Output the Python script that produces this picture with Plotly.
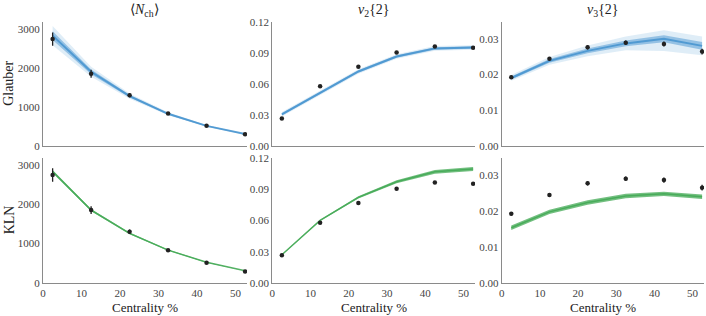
import plotly.graph_objects as go

# ---------------- data ----------------
centrality = [2.5, 12.5, 22.5, 32.5, 42.5, 52.5]

# experimental points
exp_nch = [2740, 1850, 1300, 830, 515, 295]
exp_nch_err = [170, 100, 55, 35, 20, 12]
exp_v2 = [0.0265, 0.0577, 0.0767, 0.0903, 0.0963, 0.0950]
exp_v2_err = [0.0005, 0.0006, 0.0007, 0.0008, 0.0009, 0.0010]
exp_v3 = [0.0192, 0.0244, 0.0276, 0.0289, 0.0285, 0.0264]
exp_v3_err = [0.0005, 0.0005, 0.0006, 0.0006, 0.0007, 0.0008]

# Glauber model bands (outer low, inner low, middle, inner high, outer high)
gl_nch_olo = [2580, 1770, 1205, 780, 485, 282]
gl_nch_ilo = [2720, 1840, 1240, 798, 496, 290]
gl_nch_mid = [2830, 1900, 1275, 820, 510, 300]
gl_nch_ihi = [2940, 1960, 1310, 842, 524, 310]
gl_nch_ohi = [3080, 2030, 1345, 860, 535, 318]

gl_v2_olo = [0.0283, 0.0493, 0.0698, 0.0843, 0.0922, 0.0930]
gl_v2_ilo = [0.0293, 0.0503, 0.0708, 0.0853, 0.0932, 0.0940]
gl_v2_mid = [0.0305, 0.0515, 0.0720, 0.0865, 0.0944, 0.0952]
gl_v2_ihi = [0.0317, 0.0527, 0.0732, 0.0877, 0.0956, 0.0964]
gl_v2_ohi = [0.0327, 0.0537, 0.0742, 0.0887, 0.0966, 0.0974]

gl_v3_olo = [0.0182, 0.0227, 0.0251, 0.0268, 0.0266, 0.0254]
gl_v3_ilo = [0.0186, 0.0233, 0.0259, 0.0279, 0.0290, 0.0269]
gl_v3_mid = [0.0190, 0.0238, 0.0266, 0.0287, 0.0300, 0.0280]
gl_v3_ihi = [0.0194, 0.0243, 0.0273, 0.0295, 0.0310, 0.0291]
gl_v3_ohi = [0.0198, 0.0249, 0.0281, 0.0306, 0.0324, 0.0306]

# KLN model bands (low, middle, high)
kln_nch_lo = [2790, 1820, 1240, 820, 515, 302]
kln_nch_mid = [2830, 1850, 1260, 835, 525, 310]
kln_nch_hi = [2870, 1880, 1280, 850, 535, 318]

kln_v2_lo = [0.0267, 0.0595, 0.0810, 0.0955, 0.1047, 0.1072]
kln_v2_mid = [0.0270, 0.0600, 0.0820, 0.0970, 0.1065, 0.1092]
kln_v2_hi = [0.0273, 0.0605, 0.0830, 0.0985, 0.1083, 0.1112]

kln_v3_lo = [0.0147, 0.0191, 0.0217, 0.0235, 0.0241, 0.0233]
kln_v3_mid = [0.0153, 0.0197, 0.0223, 0.0241, 0.0247, 0.0239]
kln_v3_hi = [0.0159, 0.0203, 0.0229, 0.0247, 0.0253, 0.0245]

titles = ["\u27e8<i>N</i><sub>ch</sub>\u27e9", "<i>v</i><sub>2</sub>{2}", "<i>v</i><sub>3</sub>{2}"]
row_labels = ["Glauber", "KLN"]
x_title = "Centrality %"
x_ticks = [0, 10, 20, 30, 40, 50]
nch_ticks = [0, 1000, 2000, 3000]
v2_ticks = [0, 0.03, 0.06, 0.09, 0.12]
v3_ticks = [0, 0.01, 0.02, 0.03]

BLUE = "58,140,204"
GREEN = "68,170,85"
FONT = "Liberation Serif, Times New Roman, serif"

fig = go.Figure()

def band(xa, ya, lo, hi, rgb, alpha):
    fig.add_trace(go.Scatter(
        x=centrality + centrality[::-1], y=hi + lo[::-1],
        xaxis=xa, yaxis=ya, fill="toself", mode="lines",
        line=dict(width=0), fillcolor=f"rgba({rgb},{alpha})",
        hoverinfo="skip", showlegend=False))

def line(xa, ya, y, rgb, alpha, width):
    fig.add_trace(go.Scatter(
        x=centrality, y=y, xaxis=xa, yaxis=ya, mode="lines",
        line=dict(color=f"rgba({rgb},{alpha})", width=width),
        showlegend=False))

def points(xa, ya, y, err):
    fig.add_trace(go.Scatter(
        x=centrality, y=y, xaxis=xa, yaxis=ya, mode="markers",
        marker=dict(color="#222222", size=4.5),
        error_y=dict(type="data", array=err, color="#222222", thickness=1.3, width=0),
        showlegend=False))

# Glauber row (axes 1..3)
glauber = [
    (gl_nch_olo, gl_nch_ilo, gl_nch_mid, gl_nch_ihi, gl_nch_ohi, exp_nch, exp_nch_err),
    (gl_v2_olo, gl_v2_ilo, gl_v2_mid, gl_v2_ihi, gl_v2_ohi, exp_v2, exp_v2_err),
    (gl_v3_olo, gl_v3_ilo, gl_v3_mid, gl_v3_ihi, gl_v3_ohi, exp_v3, exp_v3_err),
]
for i, (olo, ilo, mid, ihi, ohi, e, ee) in enumerate(glauber):
    xa = "x" if i == 0 else f"x{i+1}"
    ya = "y" if i == 0 else f"y{i+1}"
    band(xa, ya, olo, ohi, BLUE, 0.16)
    band(xa, ya, ilo, ihi, BLUE, 0.45)
    line(xa, ya, mid, BLUE, 0.75, 2)
    points(xa, ya, e, ee)

# KLN row (axes 4..6)
kln = [
    (kln_nch_lo, kln_nch_mid, kln_nch_hi, exp_nch, exp_nch_err),
    (kln_v2_lo, kln_v2_mid, kln_v2_hi, exp_v2, exp_v2_err),
    (kln_v3_lo, kln_v3_mid, kln_v3_hi, exp_v3, exp_v3_err),
]
for i, (lo, mid, hi, e, ee) in enumerate(kln):
    xa = f"x{i+4}"
    ya = f"y{i+4}"
    band(xa, ya, lo, hi, GREEN, 0.75)
    line(xa, ya, mid, GREEN, 0.9, 1.5)
    points(xa, ya, e, ee)

xdom = [[0.0, 0.3086], [0.3469, 0.6536], [0.694, 1.0]]
ydom = [[0.526, 1.0], [0.0, 0.48]]
yranges = [[0, 3180], [0, 0.12], [0, 0.0347]]
yticks = [nch_ticks, v2_ticks, v3_ticks]
yfmt = ["d", ".2f", ".2f"]

axis_common = dict(
    showgrid=False, zeroline=False, showline=True, linecolor="#8a8a8a", linewidth=1,
    ticks="", tickfont=dict(family=FONT, size=11, color="#444444"),
)

layout = dict(
    width=706, height=316,
    margin=dict(l=43, r=2, t=22, b=33),
    plot_bgcolor="white", paper_bgcolor="white",
    font=dict(family=FONT, color="#222222"),
    annotations=[],
)
for r in range(2):
    for c in range(3):
        n = r * 3 + c + 1
        xk = "xaxis" if n == 1 else f"xaxis{n}"
        yk = "yaxis" if n == 1 else f"yaxis{n}"
        ya_name = "y" if n == 1 else f"y{n}"
        xa_name = "x" if n == 1 else f"x{n}"
        xa = dict(axis_common, domain=xdom[c], range=[0, 53], anchor=ya_name,
                  tickvals=x_ticks, showticklabels=(r == 1))
        ya = dict(axis_common, domain=ydom[r], range=yranges[c], anchor=xa_name,
                  tickvals=yticks[c], tickformat=yfmt[c])
        layout[xk] = xa
        layout[yk] = ya

for c in range(3):
    xc = (xdom[c][0] + xdom[c][1]) / 2
    layout["annotations"].append(dict(
        text=titles[c], x=xc, y=1.0, xref="paper", yref="paper",
        xanchor="center", yanchor="bottom", yshift=1, showarrow=False,
        font=dict(family=FONT, size=14, color="#222222")))
    layout["annotations"].append(dict(
        text=x_title, x=xc, y=0.0, xref="paper", yref="paper",
        xanchor="center", yanchor="top", yshift=-15, showarrow=False,
        font=dict(family=FONT, size=13, color="#222222")))

for r in range(2):
    layout["annotations"].append(dict(
        text=row_labels[r], x=0, y=(ydom[r][0] + ydom[r][1]) / 2, xref="paper", yref="paper",
        xanchor="center", yanchor="middle", xshift=-34, textangle=-90, showarrow=False,
        font=dict(family=FONT, size=14, color="#222222")))

fig.update_layout(**layout)
fig.write_html("out.html", config={"displayModeBar": False},
               post_script="document.body.style.margin='0';document.body.style.padding='0';")
